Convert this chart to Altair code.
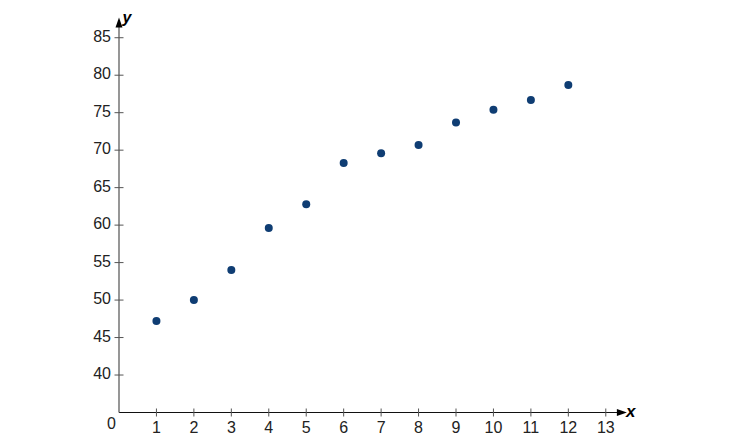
import altair as alt
import pandas as pd

# data
x_vals = [1, 2, 3, 4, 5, 6, 7, 8, 9, 10, 11, 12]
y_vals = [47.2, 50.0, 54.0, 59.6, 62.8, 68.3, 69.6, 70.7, 73.7, 75.4, 76.7, 78.7]
x_ticks = [1, 2, 3, 4, 5, 6, 7, 8, 9, 10, 11, 12, 13]
y_ticks = [40, 45, 50, 55, 60, 65, 70, 75, 80, 85]

X_MIN, X_MAX = 0, 13.7
Y_MIN, Y_MAX = 35, 88.5
X_ARROW = 13.43
Y_ARROW = 87.03

FONT = "Liberation Sans"

xs = alt.Scale(domain=[X_MIN, X_MAX], nice=False, zero=False)
ys = alt.Scale(domain=[Y_MIN, Y_MAX], nice=False, zero=False)

pts = pd.DataFrame({"x": x_vals, "y": y_vals})
xt = pd.DataFrame({"v": x_ticks, "label": [str(v) for v in x_ticks]})
yt = pd.DataFrame({"v": y_ticks, "label": [str(v) for v in y_ticks]})
one = pd.DataFrame({"a": [0]})

def XD(v):
    return alt.XDatum(v, scale=xs, axis=None)

def YD(v):
    return alt.YDatum(v, scale=ys, axis=None)

# axis lines
x_axis = alt.Chart(one).mark_rule(color="#111111", strokeWidth=1.2).encode(
    x=XD(0), x2=alt.X2Datum(X_ARROW), y=YD(Y_MIN)
)
y_axis = alt.Chart(one).mark_rule(color="#6a6a6a", strokeWidth=1.4).encode(
    x=XD(0), y=YD(Y_MIN), y2=alt.Y2Datum(Y_ARROW)
)

arrow_path_up = "M-0.7,1L0,-1L0.7,1Z"
arrow_path_right = "M-1,-0.7L1,0L-1,0.7Z"
x_arrow = alt.Chart(one).mark_point(
    shape=arrow_path_right, filled=True, size=100, color="#000000", opacity=1
).encode(x=XD(X_ARROW), y=YD(Y_MIN))
y_arrow = alt.Chart(one).mark_point(
    shape=arrow_path_up, filled=True, size=100, color="#000000", opacity=1
).encode(x=XD(0), y=YD(Y_ARROW))

# ticks
x_tick_marks = alt.Chart(xt).mark_rule(color="#555555", strokeWidth=1, yOffset=-4, y2Offset=4).encode(
    x=alt.X("v:Q", scale=xs, axis=None), y=YD(Y_MIN), y2=alt.Y2Datum(Y_MIN)
)
y_tick_marks = alt.Chart(yt).mark_rule(color="#555555", strokeWidth=1, xOffset=-4.5, x2Offset=4.5).encode(
    y=alt.Y("v:Q", scale=ys, axis=None), x=XD(0), x2=alt.X2Datum(0)
)

# tick labels
x_labels = alt.Chart(xt).mark_text(
    font=FONT, fontSize=16, color="#222222", align="center", baseline="top", dy=7.5
).encode(x=alt.X("v:Q", scale=xs, axis=None), y=YD(Y_MIN), text="label:N")
y_labels = alt.Chart(yt).mark_text(
    font=FONT, fontSize=16, color="#222222", align="right", baseline="middle", dx=-8, dy=-1
).encode(y=alt.Y("v:Q", scale=ys, axis=None), x=XD(0), text="label:N")
zero_label = alt.Chart(one).mark_text(
    font=FONT, fontSize=16, color="#222222", align="right", baseline="top", dx=-3, dy=3
).encode(x=XD(0), y=YD(Y_MIN), text=alt.value("0"))

# axis titles
x_title = alt.Chart(one).mark_text(
    font=FONT, fontSize=17, fontWeight="bold", fontStyle="italic", color="#000000",
    align="left", baseline="alphabetic", dx=4, dy=4
).encode(x=XD(X_ARROW), y=YD(Y_MIN), text=alt.value("x"))
y_title = alt.Chart(one).mark_text(
    font=FONT, fontSize=16, fontWeight="bold", fontStyle="italic", color="#000000",
    align="center", baseline="alphabetic", dx=8, dy=11
).encode(x=XD(0), y=YD(Y_MAX), text=alt.value("y"))

points = alt.Chart(pts).mark_circle(size=64, color="#0f3d73", opacity=1).encode(
    x=alt.X("x:Q", scale=xs, axis=None),
    y=alt.Y("y:Q", scale=ys, axis=None),
)

chart = alt.layer(
    x_axis, y_axis, x_tick_marks, y_tick_marks, x_arrow, y_arrow,
    x_labels, y_labels, zero_label, x_title, y_title, points
).properties(
    width=513, height=401,
    autosize=alt.AutoSizeParams(type="none"),
    padding={"left": 111, "top": 3.5, "right": 90, "bottom": 22},
).configure_view(stroke=None)

chart.save("out.html", embed_options={"renderer": "svg", "actions": False})
